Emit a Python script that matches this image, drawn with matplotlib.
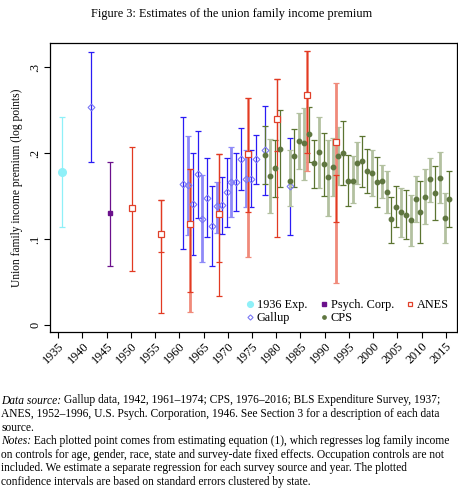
import matplotlib
matplotlib.use("Agg")
import matplotlib.pyplot as plt
import numpy as np

plt.rcParams['font.family'] = ['Liberation Serif', 'DejaVu Serif']

# ---- data: estimate, lower and upper CI, shade (0 dark / 1 light)
exp_years = [1936]
exp_est = [0.178]
exp_lo = [0.114]
exp_hi = [0.242]

psych_years = [1946]
psych_est = [0.130]
psych_lo = [0.069]
psych_hi = [0.190]

gallup_years = [1942, 1961, 1962, 1963, 1964, 1965, 1966, 1967, 1968, 1969, 1970,
                1971, 1972, 1973, 1974, 1975, 1976, 1978, 1983]
gallup_est = [0.2535, 0.1643, 0.1624, 0.1407, 0.1752, 0.1233, 0.1477, 0.1147, 0.138, 0.140, 0.1543,
              0.1659, 0.1667, 0.193, 0.1698, 0.170, 0.1926, 0.2031, 0.1616]
gallup_lo = [0.190, 0.088, 0.1043, 0.0818, 0.1248, 0.0736, 0.102, 0.0686, 0.1074, 0.1054, 0.1143,
             0.126, 0.1326, 0.157, 0.1368, 0.1368, 0.1636, 0.1512, 0.1047]
gallup_hi = [0.317, 0.2415, 0.2198, 0.1996, 0.2256, 0.1744, 0.1938, 0.1616, 0.1667, 0.1725, 0.1946,
             0.2066, 0.2004, 0.2287, 0.2035, 0.2035, 0.2206, 0.2543, 0.2178]
gallup_shade = [0, 0, 1, 0, 0, 1, 0, 0, 1, 0, 0, 1, 0, 0, 1, 0, 0, 0, 0]

anes_years = [1950.5, 1956.5, 1962.5, 1968.5, 1974.5, 1980.5, 1986.5, 1992.5]
anes_est = [0.1357, 0.1055, 0.118, 0.129, 0.1985, 0.240, 0.268, 0.2128]
anes_lo = [0.063, 0.0143, 0.0155, 0.034, 0.0795, 0.1027, 0.179, 0.0485]
anes_hi = [0.207, 0.146, 0.181, 0.1985, 0.2636, 0.286, 0.319, 0.281]
anes_shade = [0, 0, 1, 0, 1, 0, 1, 1]
# second (inner) interval caps visible on the ANES bars
anes_lo2 = [np.nan, 0.085, 0.038, 0.0737, 0.132, 0.2027, 0.200, 0.1194]
anes_hi2 = [np.nan, 0.146, 0.181, 0.1985, 0.2636, 0.286, 0.319, 0.175]

cps_years = [1978, 1979, 1980, 1981, 1983, 1984, 1985, 1986, 1987, 1988, 1989, 1990,
             1991, 1992, 1993, 1994, 1995, 1996, 1997, 1998, 1999, 2000, 2001, 2002,
             2003, 2004, 2005, 2006, 2007, 2008, 2009, 2010, 2011, 2012, 2013, 2014,
             2015, 2016]
cps_est = [0.1973, 0.1736, 0.1826, 0.205, 0.1674, 0.1969, 0.2143, 0.2112, 0.2217, 0.188, 0.2008, 0.1868,
           0.1717, 0.1841, 0.1969, 0.1996, 0.1678, 0.1678, 0.188, 0.1911, 0.1795, 0.1771, 0.1659, 0.1678,
           0.1547, 0.1229, 0.1376, 0.1314, 0.1279, 0.1221, 0.1469, 0.1314, 0.1492, 0.1694, 0.1531, 0.1705,
           0.124, 0.1465]
cps_lo = [0.1636, 0.1299, 0.1492, 0.1605, 0.1388, 0.1609, 0.1814, 0.1686, 0.1899, 0.1597, 0.1597, 0.1504,
          0.1267, 0.150, 0.1628, 0.1628, 0.1388, 0.1422, 0.1636, 0.1609, 0.1539, 0.1504, 0.1368, 0.148,
          0.1299, 0.095, 0.1136, 0.1027, 0.0996, 0.0922, 0.1202, 0.095, 0.1174, 0.1434, 0.1221, 0.1415,
          0.095, 0.1136]
cps_hi = [0.231, 0.2167, 0.2151, 0.2504, 0.2035, 0.2275, 0.2461, 0.2519, 0.2539, 0.2151, 0.2422, 0.2229,
          0.2151, 0.2171, 0.2306, 0.2372, 0.1977, 0.1965, 0.2132, 0.2198, 0.2043, 0.2035, 0.195, 0.186,
          0.179, 0.1492, 0.1616, 0.1597, 0.157, 0.1512, 0.1736, 0.1678, 0.181, 0.1946, 0.1853, 0.2008,
          0.1531, 0.179]
cps_shade = [0, 1, 0, 0, 1, 0, 1, 1, 0, 0, 1, 0,
             1, 1, 1, 0, 0, 1, 1, 0, 0, 1, 0, 1,
             1, 0, 0, 1, 0, 1, 1, 0, 1, 1, 0, 1,
             1, 0]

x_off = -0.25  # points sit slightly left of the year ticks

fig = plt.figure(figsize=(4.58, 4.91), dpi=100)
ax = fig.add_axes([50/458, 1-332/491, 407/458, 289/491])


def bars(years, est, lo, hi, shade, dark, light):
    years = np.array(years) + x_off
    est, lo, hi, shade = map(np.array, (est, lo, hi, shade))
    for s, col, lw in [(1, light, 2.0), (0, dark, 0.9)]:
        m = shade == s
        if m.sum() == 0:
            continue
        ax.errorbar(years[m], est[m], yerr=[est[m]-lo[m], hi[m]-est[m]], fmt='none',
                    ecolor=col, elinewidth=lw, capsize=2.5, capthick=0.9, zorder=2)


bars(exp_years, exp_est, exp_lo, exp_hi, [0], '#8FF0F8', '#8FF0F8')
bars(gallup_years, gallup_est, gallup_lo, gallup_hi, gallup_shade, '#2A1CF5', '#8F8AF8')
bars(psych_years, psych_est, psych_lo, psych_hi, [0], '#6B118C', '#6B118C')
bars(cps_years, cps_est, cps_lo, cps_hi, cps_shade, '#5B7431', '#B3C1A0')
bars(anes_years, anes_est, anes_lo, anes_hi, anes_shade, '#E23A22', '#F08A7A')

# inner caps on the ANES bars
ay = np.array(anes_years) + x_off
lo2 = np.array(anes_lo2)
hi2 = np.array(anes_hi2)
mid2 = (lo2 + hi2) / 2
ax.errorbar(ay, mid2, yerr=[mid2-lo2, hi2-mid2], fmt='none', ecolor='#E23A22',
            elinewidth=0.9, capsize=2.5, capthick=0.9, zorder=2)

h_exp, = ax.plot(np.array(exp_years)+x_off, exp_est, 'o', ms=5.5, color='#8FF0F8',
                 mec='#8FF0F8', ls='none', label='1936 Exp.', zorder=3)
h_gal, = ax.plot(np.array(gallup_years)+x_off, gallup_est, 'D', ms=3.5, mfc='none',
                 mec='#7B78F5', mew=0.8, ls='none', label='Gallup', zorder=3)
h_psy, = ax.plot(np.array(psych_years)+x_off, psych_est, 's', ms=3.5, color='#6B118C',
                 ls='none', label='Psych. Corp.', zorder=3)
h_cps, = ax.plot(np.array(cps_years)+x_off, cps_est, 'o', ms=3.2, color='#5F7640',
                 ls='none', label='CPS', zorder=3)
h_anes, = ax.plot(ay, anes_est, 's', ms=4, mfc='white', mec='#E0402A', mew=0.9,
                  ls='none', label='ANES', zorder=4)

ax.set_xlim(1933.3, 2017.3)
ax.set_ylim(-0.008, 0.328)
ax.set_xticks(range(1935, 2016, 5))
ax.set_xticklabels([str(y) for y in range(1935, 2016, 5)], rotation=45, ha='right',
                   rotation_mode='anchor', fontsize=8.8)
ax.set_yticks([0, 0.1, 0.2, 0.3])
ax.set_yticklabels(['0', '.1', '.2', '.3'], rotation=90, va='center', fontsize=8.8)
ax.tick_params(direction='out', length=4, width=0.8, pad=2)
ax.set_ylabel('Union family income premium (log points)', fontsize=8.3, labelpad=5)
for sp in ax.spines.values():
    sp.set_linewidth(0.9)

ax.legend(handles=[h_exp, h_gal, h_psy, h_cps, h_anes], ncol=3, loc='lower right',
          frameon=False, fontsize=8.8, markerscale=0.75, handlelength=0.5, handletextpad=0.3,
          columnspacing=1.1, borderaxespad=0.25, labelspacing=0.1)

fig.text(0.505, 1-14/491, 'Figure 3: Estimates of the union family income premium',
         ha='center', va='center', fontsize=8.8)

notes = [
    ('Data source:', ' Gallup data, 1942, 1961\u20131974; CPS, 1976\u20132016; BLS Expenditure Survey, 1937;'),
    ('', 'ANES, 1952\u20131996, U.S. Psych. Corporation, 1946. See Section 3 for a description of each data'),
    ('', 'source.'),
    ('Notes:', ' Each plotted point comes from estimating equation (1), which regresses log family income'),
    ('', 'on controls for age, gender, race, state and survey-date fixed effects. Occupation controls are not'),
    ('', 'included. We estimate a separate regression for each survey source and year. The plotted'),
    ('', 'confidence intervals are based on standard errors clustered by state.'),
]
renderer = fig.canvas.get_renderer()
y0 = 400.5
for i, (it, rest) in enumerate(notes):
    y = 1 - (y0 + i*13.6)/491
    x = 1/458
    if it:
        t = fig.text(x, y, it, ha='left', va='center', fontsize=8.3, style='italic')
        bb = t.get_window_extent(renderer=renderer)
        x = bb.x1/fig.bbox.width
    fig.text(x, y, rest, ha='left', va='center', fontsize=8.3)

fig.savefig('out.png', dpi=100)
